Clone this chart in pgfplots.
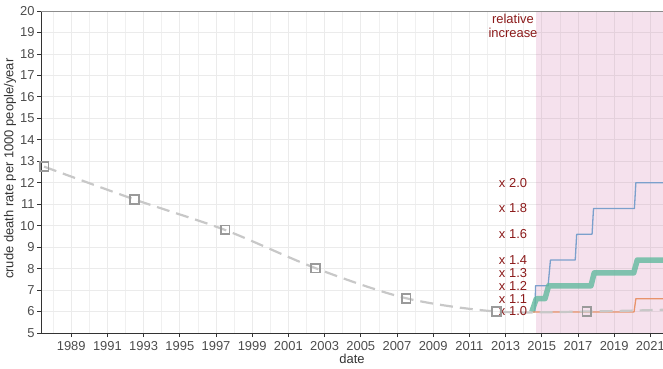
\documentclass[border=0pt]{standalone}
\usepackage{fontspec}
\setmainfont{Liberation Sans}
\usepackage{pgfplots}
\pgfplotsset{compat=1.18}

\definecolor{gridgray}{HTML}{EBEBEB}
\definecolor{minorgray}{HTML}{F0F0F0}
\definecolor{tickgray}{HTML}{4D4D4D}
\definecolor{axisdark}{HTML}{333333}
\definecolor{framegray}{HTML}{8C8C8C}
\definecolor{pinkzone}{rgb}{0.80,0.42,0.64}
\definecolor{labred}{HTML}{8B1A1A}
\definecolor{blueline}{HTML}{7BA0CC}
\definecolor{tealline}{HTML}{62B99E}
\definecolor{orangeline}{HTML}{E8936B}
\definecolor{dashgray}{HTML}{C8C8C8}
\definecolor{markgray}{HTML}{9A9A9A}

\newcommand{\lab}{\fontsize{13}{14}\selectfont}

\begin{document}
\begin{tikzpicture}
\begin{axis}[
  scale only axis,
  width=622bp, height=322bp,
  xmin=1987.33, xmax=2021.7,
  ymin=5, ymax=20,
  xtick={1989,1991,...,2021},
  minor xtick={1988,1990,...,2022},
  ytick={5,6,...,20},
  grid=both,
  major grid style={draw=gridgray, line width=0.8bp},
  minor grid style={draw=minorgray, line width=0.6bp},
  axis x line*=bottom, axis y line*=left,
  axis line style={-, draw=axisdark, line width=0.9bp},
  tick align=outside,
  major tick length=4bp, minor tick length=0bp,
  tick style={draw=axisdark, line width=0.8bp},
  /pgf/number format/assume math mode=true,
  /pgf/number format/set thousands separator={},
  ticklabel style={font=\lab, text=tickgray},
  xticklabel style={yshift=-1bp},
  yticklabel style={xshift=1bp},
  xlabel={date},
  ylabel={crude death rate per 1000 people/year},
  xlabel style={font=\lab, text=axisdark, at={(rel axis cs:0.5,-0.08)}, anchor=center},
  ylabel style={font=\lab, text=axisdark, at={(rel axis cs:-0.0498,0.51)}, anchor=center},
  clip=true,
]

% shaded projection period
\addplot[draw=none, fill=pinkzone, fill opacity=0.2, forget plot]
  coordinates {(2014.68,5) (2021.7,5) (2021.7,20) (2014.68,20)} -- cycle;

% scenario: step increases every few years
\addplot[color=blueline, line width=1.3bp, line join=round] coordinates {
  (2014.62,6.0) (2014.66,7.2) (2015.35,7.2) (2015.48,8.4) (2016.85,8.4)
  (2016.93,9.6) (2017.78,9.6) (2017.86,10.8) (2020.12,10.8) (2020.2,12.0)
  (2022.5,12.0)};

% scenario: moderate increases
\addplot[color=tealline, opacity=0.8, line width=5.5bp, line join=round] coordinates {
  (2014.45,5.98) (2014.7,6.6) (2015.18,6.6) (2015.38,7.2) (2017.72,7.2)
  (2017.9,7.8) (2020.08,7.8) (2020.28,8.4) (2022.5,8.4)};

% scenario: single late increase
\addplot[color=orangeline, line width=1.3bp, line join=round] coordinates {
  (2014.5,5.98) (2020.1,5.98) (2020.2,6.6) (2022.5,6.6)};

% observed crude death rate
\addplot[smooth, color=dashgray, line width=2.2bp, dash pattern=on 13bp off 7bp] coordinates {
  (1987.5,12.75) (1992.5,11.22) (1997.5,9.8) (2002.5,8.02) (2007.5,6.62)
  (2012.5,6.0) (2017.5,6.0) (2022.5,6.1)};
\addplot[only marks, mark=square, mark size=4.4bp,
  mark options={draw=markgray, line width=1.8bp, fill=none}] coordinates {
  (1987.5,12.75) (1992.5,11.22) (1997.5,9.8) (2002.5,8.02) (2007.5,6.62)
  (2012.5,6.0) (2017.5,6.0)};

% relative increase scale
\begin{scope}[every node/.style={anchor=east, inner sep=0pt, text=labred, font=\lab}]
  \node at (axis cs:2014.2,12.0) {x 2.0};
  \node at (axis cs:2014.2,10.8) {x 1.8};
  \node at (axis cs:2014.2,9.6) {x 1.6};
  \node at (axis cs:2014.2,8.4) {x 1.4};
  \node at (axis cs:2014.2,7.8) {x 1.3};
  \node at (axis cs:2014.2,7.2) {x 1.2};
  \node at (axis cs:2014.2,6.6) {x 1.1};
  \node at (axis cs:2014.2,6.0) {x 1.0};
\end{scope}
\node[anchor=north, align=center, inner sep=0pt, text=labred, font=\fontsize{13}{13.5}\selectfont]
  at (axis cs:2013.41,19.85) {relative\\increase};

% top frame line
\draw[framegray, line width=0.8bp] (rel axis cs:0,1) -- (rel axis cs:1,1);
\end{axis}
\pgfresetboundingbox
\path[use as bounding box] ([xshift=-41bp,yshift=-36bp]current axis.south west)
  rectangle ([yshift=11bp]current axis.north east);
\end{tikzpicture}
\end{document}
